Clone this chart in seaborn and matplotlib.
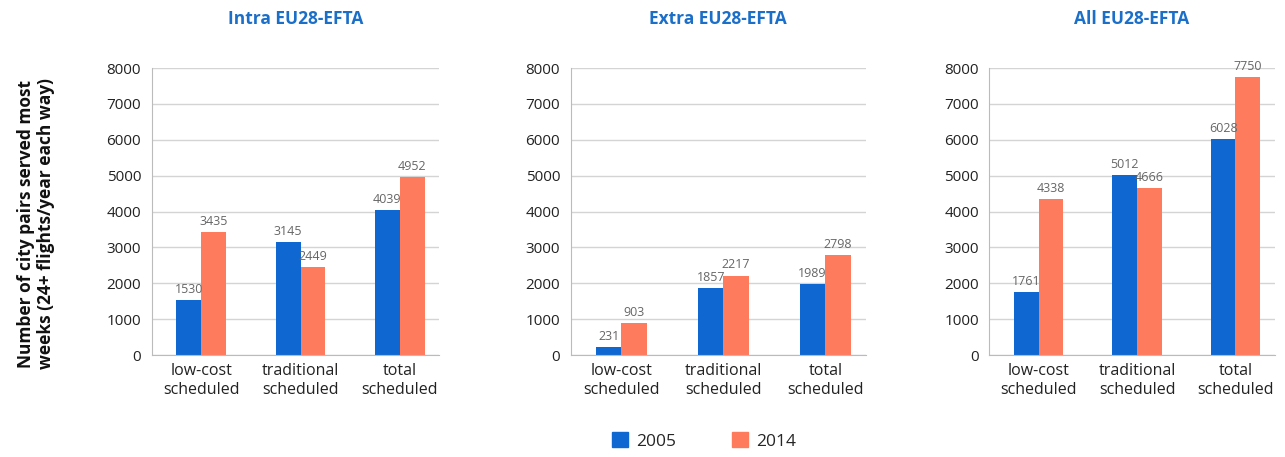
import matplotlib
matplotlib.use("Agg")

import pandas as pd
import seaborn as sns
import matplotlib.pyplot as plt
from matplotlib.patches import Patch

# values
categories = ["low-cost\nscheduled", "traditional\nscheduled", "total\nscheduled"]
years = ["2005", "2014"]
panels = ["Intra EU28-EFTA", "Extra EU28-EFTA", "All EU28-EFTA"]

intra_2005 = [1530, 3145, 4039]
intra_2014 = [3435, 2449, 4952]
extra_2005 = [231, 1857, 1989]
extra_2014 = [903, 2217, 2798]
all_2005 = [1761, 5012, 6028]
all_2014 = [4338, 4666, 7750]

series = {
    "Intra EU28-EFTA": (intra_2005, intra_2014),
    "Extra EU28-EFTA": (extra_2005, extra_2014),
    "All EU28-EFTA": (all_2005, all_2014),
}

colors = {"2005": "#0f67d2", "2014": "#ff7b5e"}
title_color = "#1b6fc8"

sns.set_style("white")
plt.rcParams["font.family"] = ["Open Sans", "DejaVu Sans"]

fig = plt.figure(figsize=(12.85, 4.57), dpi=100)
lefts = [0.118, 0.444, 0.770]
widths = [0.224, 0.230, 0.222]

for i, panel in enumerate(panels):
    v05, v14 = series[panel]
    df = pd.DataFrame({
        "category": categories * 2,
        "year": ["2005"] * 3 + ["2014"] * 3,
        "value": v05 + v14,
    })
    ax = fig.add_axes([lefts[i], 0.223, widths[i], 0.628])
    sns.barplot(data=df, x="category", y="value", hue="year", palette=colors,
                width=0.5, saturation=1, linewidth=0, ax=ax, legend=False)
    for cont in ax.containers:
        ax.bar_label(cont, fmt="%d", fontsize=9, color="#666666", padding=3)
    ax.set_ylim(0, 8000)
    ax.set_xlim(-0.5, 2.4)
    ax.set_yticks(range(0, 8001, 1000))
    ax.yaxis.grid(True, color="#d4d4d4", linewidth=1)
    ax.set_axisbelow(True)
    for s in ["top", "right"]:
        ax.spines[s].set_visible(False)
    ax.spines["left"].set_color("#bbbbbb")
    ax.spines["bottom"].set_color("#bbbbbb")
    ax.tick_params(axis="y", length=4, color="#bbbbbb", labelsize=11, labelcolor="#222222")
    ax.tick_params(axis="x", length=0, labelsize=11.5, labelcolor="#222222", pad=6)
    ax.set_xlabel("")
    ax.set_ylabel("")
    ax.set_title(panel, color=title_color, fontsize=12.5, fontweight="bold", pad=32)

fig.text(0.028, 0.51, "Number of city pairs served most\nweeks (24+ flights/year each way)",
         rotation=90, ha="center", va="center", fontsize=12.5, fontweight="bold",
         color="#111111", linespacing=1.2)

handles = [Patch(color=colors[y], label=y) for y in years]
fig.legend(handles=handles, loc="center", bbox_to_anchor=(0.548, 0.035), ncol=2,
           frameon=False, fontsize=12.5, handlelength=0.9, handleheight=0.9,
           handletextpad=0.5, columnspacing=3.2)

fig.savefig("out.png", dpi=100)
plt.close()
